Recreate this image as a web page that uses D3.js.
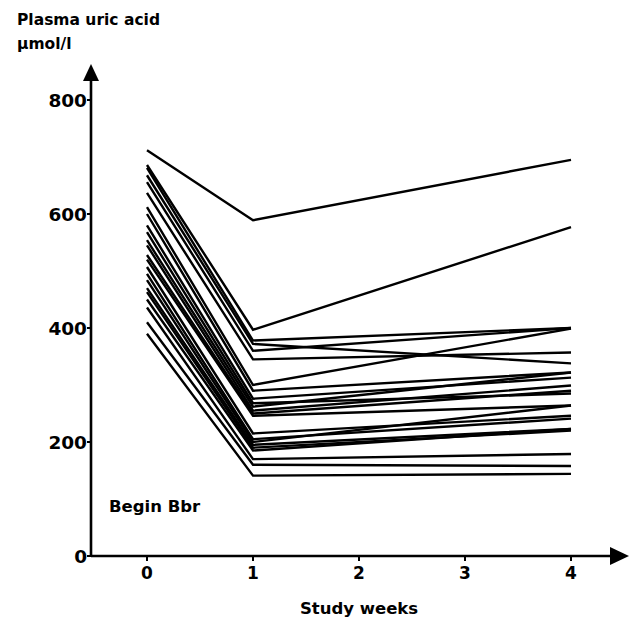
<!DOCTYPE html>
<html>
<head>
<meta charset="utf-8">
<script src="https://cdn.jsdelivr.net/npm/d3@7"></script>
<style>
  body { margin: 0; background: #fff; }
  text { font-family: "DejaVu Sans", sans-serif; font-weight: bold; fill: #000; }
</style>
</head>
<body>
<div id="chart"></div>
<script>
// study weeks where uric acid was measured
var weeks = [0, 1, 4];
var xTicks = [0, 1, 2, 3, 4];
var yTicks = [0, 200, 400, 600, 800];

// plasma uric acid (umol/l) per patient, at week 0, 1 and 4
var week0 = [712, 686, 681, 668, 656, 637, 612, 600, 580, 568, 554, 545, 528, 520, 507, 495, 484, 470, 463, 450, 436, 410, 390];
var week1 = [589, 397, 378, 372, 360, 345, 300, 290, 276, 268, 262, 255, 250, 246, 215, 205, 200, 195, 190, 185, 170, 160, 141];
var week4 = [695, 577, 400, 338, 400, 357, 399, 322, 313, 285, 322, 299, 290, 264, 246, 241, 264, 223, 220, 223, 179, 158, 144];

var width = 637, height = 619;

var svg = d3.select("#chart").append("svg")
	.attr("width", width)
	.attr("height", height);

var x = d3.scaleLinear().domain([0, 4]).range([147, 571]);
var y = d3.scaleLinear().domain([0, 800]).range([556, 100]);
var axisX = 91;

// patient lines
var patients = week0.map(function(v, i) {
	return [v, week1[i], week4[i]];
});

var line = d3.line()
	.x(function(d, i) { return x(weeks[i]); })
	.y(function(d) { return y(d); });

svg.append("g").selectAll("path")
	.data(patients)
	.enter().append("path")
	.attr("d", line)
	.attr("fill", "none")
	.attr("stroke", "#000")
	.attr("stroke-width", 2.4)
	.attr("stroke-linejoin", "miter");

// axes
svg.append("line")
	.attr("x1", axisX).attr("x2", axisX)
	.attr("y1", y(0)).attr("y2", 78)
	.attr("stroke", "#000").attr("stroke-width", 2.6);
svg.append("path")
	.attr("d", "M" + axisX + ",64 L" + (axisX - 8) + ",81 L" + (axisX + 8) + ",81 Z")
	.attr("fill", "#000");

svg.append("line")
	.attr("x1", axisX).attr("x2", 612)
	.attr("y1", y(0)).attr("y2", y(0))
	.attr("stroke", "#000").attr("stroke-width", 2.6);
svg.append("path")
	.attr("d", "M629," + y(0) + " L610," + (y(0) - 9) + " L610," + (y(0) + 9) + " Z")
	.attr("fill", "#000");

// y ticks
var yt = svg.append("g").selectAll("g")
	.data(yTicks)
	.enter().append("g");
yt.append("line")
	.attr("x1", axisX - 4).attr("x2", axisX)
	.attr("y1", function(d) { return y(d); })
	.attr("y2", function(d) { return y(d); })
	.attr("stroke", "#000").attr("stroke-width", 2);
yt.append("text")
	.attr("x", function(d) { return d === 0 ? axisX - 4 : axisX - 4; })
	.attr("y", function(d) { return y(d) + 7; })
	.attr("text-anchor", "end")
	.attr("font-size", 18.5)
	.text(function(d) { return d; });

// x ticks
var xt = svg.append("g").selectAll("g")
	.data(xTicks)
	.enter().append("g");
xt.append("line")
	.attr("x1", function(d) { return x(d); })
	.attr("x2", function(d) { return x(d); })
	.attr("y1", y(0)).attr("y2", y(0) + 5)
	.attr("stroke", "#000").attr("stroke-width", 2);
xt.append("text")
	.attr("x", function(d) { return x(d); })
	.attr("y", 579)
	.attr("text-anchor", "middle")
	.attr("font-size", 17)
	.text(function(d) { return d; });

// labels
svg.append("text").attr("x", 17).attr("y", 25).attr("font-size", 15.5).text("Plasma uric acid");
svg.append("text").attr("x", 17).attr("y", 49).attr("font-size", 15.5).text("\u03bcmol/l");
svg.append("text").attr("x", 109).attr("y", 512).attr("font-size", 16.5).text("Begin Bbr");
svg.append("text").attr("x", 359).attr("y", 614).attr("text-anchor", "middle").attr("font-size", 16.5).text("Study weeks");
</script>
</body>
</html>
